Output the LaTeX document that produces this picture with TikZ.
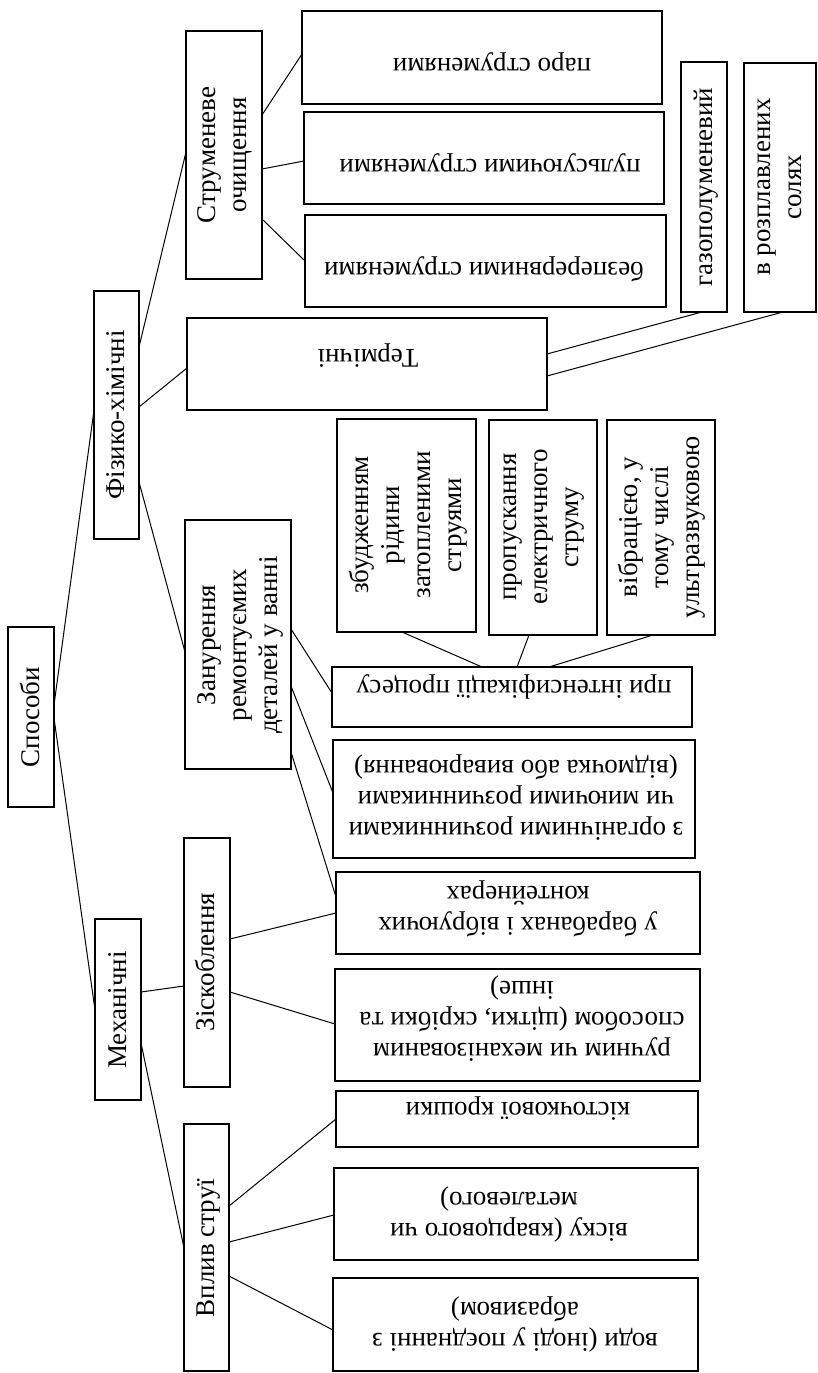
\documentclass[tikz,border=0pt]{standalone}
\usepackage{fontspec}
\setmainfont{Liberation Serif}
\begin{document}
\begin{tikzpicture}[x=1pt,y=-1pt,
  box/.style={draw, line width=1.1pt, inner sep=0pt, outer sep=0pt},
  lbl/.style={font=\fontsize{27}{31}\selectfont, align=center, inner sep=0pt,
    execute at begin node=\strut, execute at end node=\strut},
  up/.style={lbl, rotate=90},
  inv/.style={lbl, rotate=180},
  conn/.style={line width=1pt}]
\useasboundingbox (0,0) rectangle (817,1373);
% boxes
\node[box, minimum width=46pt, minimum height=180pt] (sposoby) at (31,717) {};
\node[box, minimum width=45pt, minimum height=248pt] (fiz) at (116.5,415) {};
\node[box, minimum width=46pt, minimum height=181pt] (mech) at (118,1009.5) {};
\node[box, minimum width=76pt, minimum height=248pt] (strum) at (224,155) {};
\node[box, minimum width=360pt, minimum height=92pt] (term) at (367,364) {};
\node[box, minimum width=106pt, minimum height=249pt] (zanur) at (238,644.5) {};
\node[box, minimum width=46pt, minimum height=249pt] (zisk) at (207,962.5) {};
\node[box, minimum width=45pt, minimum height=247pt] (vplyv) at (206.5,1247.5) {};
\node[box, minimum width=360pt, minimum height=93pt] (paro) at (482,57.5) {};
\node[box, minimum width=360pt, minimum height=92pt] (puls) at (484,158) {};
\node[box, minimum width=361pt, minimum height=92pt] (bezp) at (485.5,261) {};
\node[box, minimum width=46pt, minimum height=250pt] (gaz) at (704,187) {};
\node[box, minimum width=72pt, minimum height=249pt] (rozpl) at (780,187.5) {};
\node[box, minimum width=139pt, minimum height=213pt] (zbudz) at (406.5,525.5) {};
\node[box, minimum width=108pt, minimum height=215pt] (propusk) at (543,527.5) {};
\node[box, minimum width=108pt, minimum height=215pt] (vibr) at (661,527.5) {};
\node[box, minimum width=360pt, minimum height=60pt] (pry) at (512,697) {};
\node[box, minimum width=362pt, minimum height=118pt] (organ) at (514,799) {};
\node[box, minimum width=364pt, minimum height=82pt] (barab) at (518,913) {};
\node[box, minimum width=365pt, minimum height=112pt] (ruchn) at (517.5,1025) {};
\node[box, minimum width=362pt, minimum height=56pt] (kist) at (517,1119) {};
\node[box, minimum width=364pt, minimum height=92pt] (visk) at (516,1214) {};
\node[box, minimum width=365pt, minimum height=93pt] (vody) at (515.5,1324.5) {};
% texts
\node[up] (t-sposoby) at (33,717) {Способи};
\node[up] (t-fiz) at (118,415) {Фізико-хімічні};
\node[up] (t-mech) at (120,1010) {Механічні};
\node[up] (t-strum) at (227,155) {Струменеве\\очищення};
\node[inv] (t-term) at (368,356) {Термічні};
\node[up] (t-zanur) at (242,645) {Занурення\\ремонтуємих\\деталей у ванні};
\node[up] (t-zisk) at (208,962) {Зіскоблення};
\node[up] (t-vplyv) at (208,1248) {Вплив струї};
\node[inv] (t-paro) at (492,65) {паро струменями};
\node[inv] (t-puls) at (490,166) {пульсуючими струменями};
\node[inv] (t-bezp) at (484,269) {безперервними струменями};
\node[up] (t-gaz) at (706,187) {газополуменевий};
\node[up] (t-rozpl) at (784,187) {в розплавлених\\солях};
\node[up] (t-zbudz) at (410,525) {збудженням\\рідини\\затопленими\\струями};
\node[up] (t-propusk) at (546,527) {пропускання\\електричного\\струму};
\node[up] (t-vibr) at (663,527) {вібрацією, у\\тому числі\\ультразвуковою};
\node[inv] (t-pry) at (514,687) {при інтенсифікації процесу};
\node[inv] (t-organ) at (516,796) {з органічними розчинниками\\чи миючими розчинниками\\(відмочка або виварювання)};
\node[inv] (t-barab) at (518,907) {у барабанах і вібруючих\\контейнерах};
\node[inv] (t-ruchn) at (522,1017) {ручним чи механізованим\\способом (щітки, скрібки та\\інше)};
\node[inv] (t-kist) at (518,1109) {кісточкової крошки};
\node[inv] (t-visk) at (509,1213) {віску (кварцового чи\\металевого)};
\node[inv] (t-vody) at (515,1323) {води (іноді у поєднанні з\\абразивом)};
% connectors
\draw[conn] (sposoby.east |- 0,705) -- (fiz.west |- 0,410);
\draw[conn] (sposoby.east |- 0,718) -- (mech.west |- 0,1010);
\draw[conn] (fiz.east |- 0,347) -- (strum.west |- 0,152);
\draw[conn] (fiz.east |- 0,407) -- (term.west |- 0,368);
\draw[conn] (fiz.east |- 0,482) -- (zanur.west |- 0,652);
\draw[conn] (strum.east |- 0,115) -- (paro.west |- 0,54);
\draw[conn] (strum.east |- 0,169) -- (puls.west |- 0,161);
\draw[conn] (strum.east |- 0,219) -- (bezp.west |- 0,261);
\draw[conn] (term.east |- 0,354) -- (gaz.south -| 702,0);
\draw[conn] (term.east |- 0,376) -- (rozpl.south -| 783,0);
\draw[conn] (zanur.east |- 0,629) -- (pry.west |- 0,693);
\draw[conn] (zanur.east |- 0,686) -- (organ.west |- 0,793);
\draw[conn] (zanur.east |- 0,752) -- (barab.west |- 0,897);
\draw[conn] (pry.north -| 482,0) -- (zbudz.south -| 402,0);
\draw[conn] (pry.north -| 517,0) -- (propusk.south -| 529,0);
\draw[conn] (pry.north -| 549,0) -- (vibr.south -| 653,0);
\draw[conn] (mech.east |- 0,992) -- (zisk.west |- 0,986);
\draw[conn] (mech.east |- 0,1043) -- (vplyv.west |- 0,1248);
\draw[conn] (zisk.east |- 0,939) -- (barab.west |- 0,913);
\draw[conn] (zisk.east |- 0,992) -- (ruchn.west |- 0,1024);
\draw[conn] (vplyv.east |- 0,1206) -- (kist.west |- 0,1119);
\draw[conn] (vplyv.east |- 0,1242) -- (visk.west |- 0,1215);
\draw[conn] (vplyv.east |- 0,1276) -- (vody.west |- 0,1330);
\end{tikzpicture}
\end{document}
